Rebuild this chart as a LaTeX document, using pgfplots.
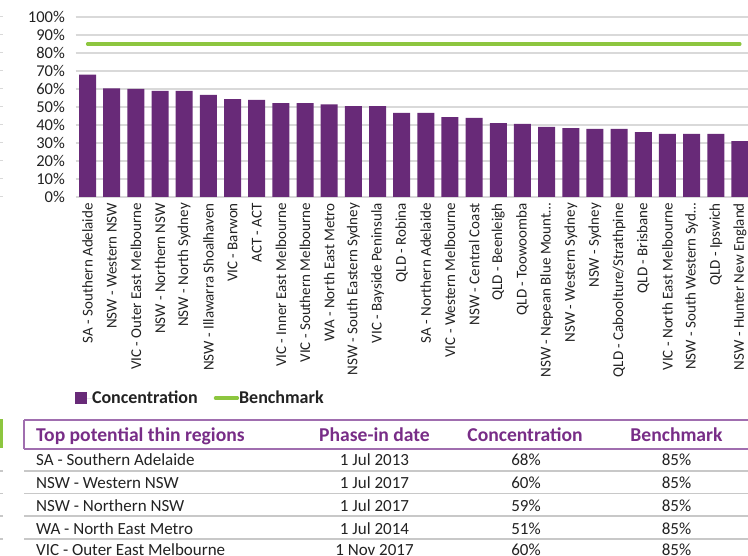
\documentclass[border=0pt]{standalone}
\usepackage{fontspec}
\setmainfont{Carlito}
\usepackage{pgfplots}
\pgfplotsset{compat=1.18}
\definecolor{ingpurple}{RGB}{104,42,120}
\definecolor{hdrpurple}{RGB}{120,45,135}
\definecolor{linepurple}{RGB}{160,110,175}
\definecolor{inggreen}{RGB}{141,198,63}
\definecolor{txt}{RGB}{34,34,34}
\definecolor{gridgray}{RGB}{217,217,217}
\definecolor{rowgray}{RGB}{200,200,200}

\begin{document}
\begin{tikzpicture}[x=1pt,y=1pt]
\path[use as bounding box] (0,0) rectangle (748,556);
% stubs of neighbouring elements at the left edge
\foreach \yy in {0,18,...,180} \draw[gridgray, line width=1pt] (0,359+\yy) -- (2.5,359+\yy);
\foreach \yy in {85,62.5,40,17} \draw[rowgray, line width=1.2pt] (0,\yy) -- (2.5,\yy);
\fill[inggreen] (0,108) rectangle (2.5,137);

\begin{axis}[
  at={(75.5pt,359pt)}, anchor=south west,
  scale only axis, width=676.5pt, height=180pt,
  xmin=-0.5, xmax=27.5, ymin=0, ymax=100,
  axis line style={draw=none},
  tick style={draw=none},
  major tick length=0pt,
  ymajorgrids,
  major grid style={draw=gridgray, line width=1.1pt},
  ytick={0,10,...,100},
  yticklabels={0\%,10\%,20\%,30\%,40\%,50\%,60\%,70\%,80\%,90\%,100\%},
  yticklabel style={font=\fontsize{16.5}{19}\selectfont, text=txt, inner sep=0pt, anchor=east},
  yticklabel shift=10.5pt,
  xtick={0,...,27},
  xticklabels={SA - Southern Adelaide, NSW - Western NSW, VIC - Outer East Melbourne, NSW - Northern NSW, NSW - North Sydney, NSW - Illawarra Shoalhaven, VIC - Barwon, ACT - ACT, VIC - Inner East Melbourne, VIC - Southern Melbourne, WA - North East Metro, NSW - South Eastern Sydney, VIC - Bayside Peninsula, QLD - Robina, SA - Northern Adelaide, VIC - Western Melbourne, NSW - Central Coast, QLD - Beenleigh, QLD - Toowoomba, NSW - Nepean Blue Mount…, NSW - Western Sydney, NSW - Sydney, QLD - Caboolture/Strathpine, QLD - Brisbane, VIC - North East Melbourne, NSW - South Western Syd…, QLD - Ipswich, NSW - Hunter New England},
  xticklabel style={font=\fontsize{15}{18}\selectfont, text=txt, rotate=90, anchor=east, inner sep=0pt},
  xticklabel shift=6pt,
  legend style={at={(-0.001,-1.117)}, anchor=west, draw=none, fill=none, inner sep=0pt,
    nodes={inner sep=0pt},
    legend columns=2, font=\fontsize{18}{21}\selectfont\bfseries, text=txt,
    /tikz/every even column/.append style={column sep=16pt}},
  clip=false,
]
\addplot[ybar, bar width=17pt, fill=ingpurple, draw=none,
  legend image code/.code={\fill[ingpurple] (0pt,-6pt) rectangle (11.5pt,6pt); \path (0pt,0pt) -- (17pt,0pt);}]
  coordinates {(0,68) (1,60.4) (2,60) (3,59) (4,59) (5,56.7) (6,54.4) (7,53.9) (8,52.2) (9,52.2) (10,51.5) (11,50.5) (12,50.5) (13,46.7) (14,46.7) (15,44.4) (16,43.9) (17,41.1) (18,40.6) (19,38.9) (20,38.3) (21,37.8) (22,37.8) (23,36.1) (24,35) (25,35) (26,35) (27,31.1)};
\addlegendentry{Concentration}
\addplot[inggreen, line width=3.3pt, line cap=round, mark=none,
  legend image code/.code={\draw[inggreen, line width=3pt, line cap=round] (1.5pt,0pt) -- (18pt,0pt); \path (0pt,0pt) -- (22pt,0pt);}]
  coordinates {(0,85) (27,85)};
\addlegendentry{Benchmark}
\end{axis}

% table
\draw[linepurple, line width=1.3pt] (24,136) -- (748,136);
\draw[linepurple, line width=1.3pt] (24,136) -- (24,107);
\draw[linepurple, line width=1.3pt] (24,107) -- (748,107);
\foreach \yy in {85,62.5,40,17} \draw[rowgray, line width=1.2pt] (24,\yy) -- (748,\yy);

\begin{scope}[every node/.style={inner sep=0pt, text=hdrpurple, font=\fontsize{19.6}{22}\selectfont\bfseries}]
\node[anchor=base west] at (36,114.5) {Top potential thin regions};
\node[anchor=base] at (374.5,114.5) {Phase-in date};
\node[anchor=base] at (525,114.5) {Concentration};
\node[anchor=base] at (676.5,114.5) {Benchmark};
\end{scope}

\begin{scope}[every node/.style={inner sep=0pt, text=txt, font=\fontsize{17}{20}\selectfont}]
\node[anchor=base west] at (36,90) {SA - Southern Adelaide};
\node[anchor=base] at (374.5,90) {1 Jul 2013};
\node[anchor=base] at (526,90) {68\%};
\node[anchor=base] at (676.5,90) {85\%};
\node[anchor=base west] at (36,67.3) {NSW - Western NSW};
\node[anchor=base] at (374.5,67.3) {1 Jul 2017};
\node[anchor=base] at (526,67.3) {60\%};
\node[anchor=base] at (676.5,67.3) {85\%};
\node[anchor=base west] at (36,44.6) {NSW - Northern NSW};
\node[anchor=base] at (374.5,44.6) {1 Jul 2017};
\node[anchor=base] at (526,44.6) {59\%};
\node[anchor=base] at (676.5,44.6) {85\%};
\node[anchor=base west] at (36,21.9) {WA - North East Metro};
\node[anchor=base] at (374.5,21.9) {1 Jul 2014};
\node[anchor=base] at (526,21.9) {51\%};
\node[anchor=base] at (676.5,21.9) {85\%};
\node[anchor=base west] at (36,0.3) {VIC - Outer East Melbourne};
\node[anchor=base] at (374.5,0.3) {1 Nov 2017};
\node[anchor=base] at (526,0.3) {60\%};
\node[anchor=base] at (676.5,0.3) {85\%};
\end{scope}
\end{tikzpicture}
\end{document}
